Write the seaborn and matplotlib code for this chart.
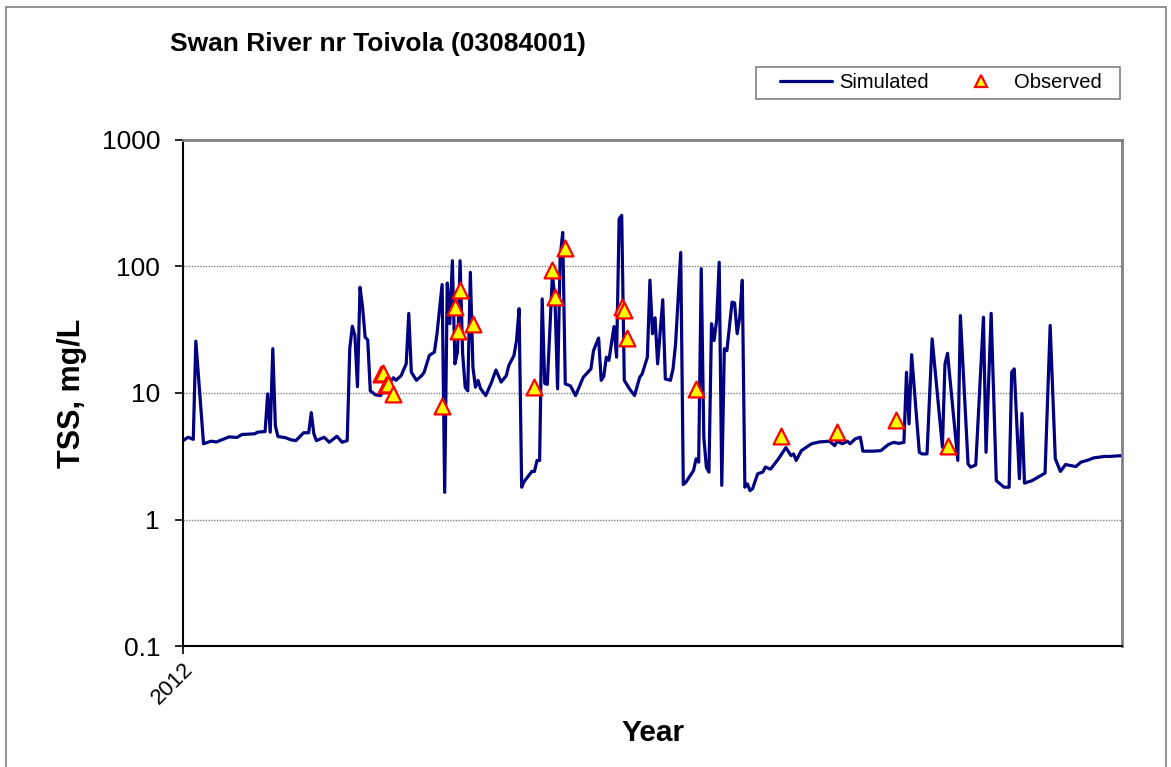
import numpy as np
import pandas as pd
import seaborn as sns
import matplotlib
matplotlib.use("Agg")
import matplotlib.pyplot as plt
from matplotlib.patches import Rectangle
from matplotlib.lines import Line2D
from matplotlib.ticker import FixedLocator, NullLocator

# ---------------- data ----------------
title = "Swan River nr Toivola (03084001)"
x_label = "Year"
y_label = "TSS, mg/L"
x_tick_days = [0]
x_tick_labels = ["2012"]
y_ticks = [0.1, 1, 10, 100, 1000]
y_tick_labels = ["0.1", "1", "10", "100", "1000"]

# simulated series: day of year (0 = 1 Jan 2012) and TSS (mg/L)
sim_day = [0, 2, 4, 5, 8, 11, 13, 18, 21, 23, 28, 29, 32, 33, 34, 35, 36, 37, 40, 42,
           44, 47, 49, 50, 51, 52, 55, 57, 60, 62, 64, 65, 66, 67, 68, 69, 70, 71, 72, 73,
           75, 77, 79, 82, 83, 85, 87, 88, 89, 91, 93, 94, 96, 98, 99, 101, 102, 103, 104, 105,
           106, 107, 108, 109, 110, 111, 112, 113, 114, 115, 116, 118, 120, 122, 124, 126, 127, 129, 130, 131,
           132, 133, 136, 137, 138, 139, 140, 141, 142, 144, 145, 146, 147, 148, 149, 151, 153, 156, 159, 160,
           162, 163, 164, 165, 166, 168, 169, 170, 171, 172, 174, 176, 178, 179, 181, 182, 183, 184, 185, 187,
           188, 190, 191, 192, 194, 195, 196, 199, 200, 201, 202, 203, 204, 205, 206, 207, 208, 209, 210, 211,
           212, 214, 215, 216, 217, 218, 219, 220, 221, 222, 224, 226, 227, 229, 232, 235, 237, 238, 239, 241,
           245, 248, 252, 254, 255, 257, 259, 260, 262, 264, 265, 269, 272, 275, 277, 279, 281, 282, 283, 284,
           287, 288, 290, 292, 296, 297, 298, 302, 303, 306, 307, 309, 312, 313, 315, 317, 320, 322, 323, 324,
           326, 327, 328, 331, 336, 338, 340, 342, 344, 348, 350, 353, 355, 359, 361, 366]
sim_tss = [4.2, 4.47, 4.3, 25.7, 3.97, 4.16, 4.1, 4.5, 4.45, 4.7, 4.76, 4.9, 4.96, 9.85, 4.9, 22.4, 5.5, 4.53, 4.43, 4.27,
           4.2, 4.85, 4.85, 7.0, 4.76, 4.2, 4.47, 4.08, 4.55, 4.08, 4.2, 22.4, 33.7, 28.5, 11.2, 68.5, 47.7, 27.6, 26.3, 10.4,
           9.68, 9.55, 11.1, 13.2, 12.6, 13.7, 17.0, 42.6, 14.6, 12.6, 13.7, 14.6, 19.8, 21.1, 29.4, 72.0, 1.64, 74.0, 35.3, 111.0,
           17.0, 21.1, 111.0, 20.4, 11.1, 10.4, 90.0, 16.0, 11.1, 12.6, 10.8, 9.55, 11.8, 15.2, 12.2, 13.7, 16.5, 19.8, 26.0, 46.4,
           1.8, 2.0, 2.4, 2.4, 2.93, 2.93, 55.4, 11.9, 11.7, 87.4, 53.7, 10.8, 118.0, 186.0, 11.8, 11.4, 9.55, 13.3, 15.5, 21.6,
           27.2, 12.6, 13.5, 19.2, 18.1, 33.5, 19.2, 238.0, 254.0, 12.6, 10.8, 9.55, 13.3, 14.2, 19.2, 78.0, 29.4, 39.3, 17.0, 54.6,
           12.9, 12.6, 15.5, 24.5, 129.0, 1.89, 1.97, 2.44, 3.02, 2.84, 96.0, 4.47, 2.59, 2.37, 35.3, 26.0, 37.5, 108.0, 1.86, 22.4,
           21.6, 52.3, 51.5, 29.4, 39.7, 77.8, 1.8, 1.91, 1.69, 1.75, 2.3, 2.37, 2.6, 2.5, 3.0, 3.7, 3.2, 3.3, 2.93, 3.5,
           3.97, 4.1, 4.16, 3.84, 4.16, 3.97, 4.16, 3.97, 4.34, 4.47, 3.47, 3.47, 3.5, 3.92, 4.07, 4.0, 4.07, 14.6, 5.7, 20.1,
           3.4, 3.3, 3.3, 26.8, 3.73, 17.0, 20.6, 2.93, 40.9, 2.75, 2.59, 2.7, 39.7, 3.4, 42.6, 2.03, 1.8, 1.8, 14.6, 15.5,
           2.1, 6.9, 1.94, 2.03, 2.33, 34.2, 3.02, 2.4, 2.72, 2.62, 2.84, 2.96, 3.07, 3.15, 3.15, 3.2]

# observed samples
obs_day = [77, 78, 79, 80, 82, 101, 106, 107, 108, 113, 137, 144, 145, 149, 171, 172, 173, 200, 233, 255, 278, 298]
obs_tss = [14.2, 14.3, 11.6, 11.8, 9.9, 7.9, 47.7, 31.0, 65.0, 35.0, 11.1, 93.0, 57.0, 140.0, 47.7, 45.4, 27.2,
           10.8, 4.6, 4.9, 6.13, 3.84]

# ---------------- style ----------------
sns.set_style("white")
plt.rcParams["font.family"] = ["Liberation Sans", "DejaVu Sans"]
plt.rcParams["text.color"] = "black"
plt.rcParams["axes.labelcolor"] = "black"
plt.rcParams["xtick.color"] = "black"
plt.rcParams["ytick.color"] = "black"

NAVY = "#000080"
W, H = 1171, 767
fig = plt.figure(figsize=(W / 100, H / 100), dpi=100)
fig.patch.set_facecolor("white")

# outer chart border
fig.patches.append(Rectangle((6 / W, -0.02), 1160 / W, 1 - 7 / H + 0.02, transform=fig.transFigure,
                             fill=False, edgecolor="#808080", linewidth=1.2))

L, R, T, B = 183, 1122, 140, 646
ax = fig.add_axes([L / W, 1 - B / H, (R - L) / W, (B - T) / H])

sim = pd.DataFrame({"day": sim_day, "tss": sim_tss})
obs = pd.DataFrame({"day": obs_day, "tss": obs_tss})

sns.lineplot(data=sim, x="day", y="tss", ax=ax, color=NAVY, linewidth=2.3, legend=False, zorder=2)
sns.scatterplot(data=obs, x="day", y="tss", ax=ax, marker="^", s=130, color="#FFFF00",
                edgecolor="#FF0000", linewidth=1.6, legend=False, zorder=3)

ax.set_yscale("log")
ax.set_ylim(0.1, 1000)
ax.set_xlim(0, 366)
ax.yaxis.set_major_locator(FixedLocator(y_ticks))
ax.yaxis.set_minor_locator(NullLocator())
ax.set_yticklabels(y_tick_labels)
ax.set_xticks(x_tick_days)
ax.set_xticklabels(x_tick_labels, rotation=45, ha="right", va="top", rotation_mode="anchor")

for yv in [1, 10, 100]:
    ax.axhline(yv, color="#808080", linestyle=(0, (1, 1)), linewidth=1.0, zorder=1)

for s in ["left", "bottom"]:
    ax.spines[s].set_color("black")
    ax.spines[s].set_linewidth(1.5)
for s in ["top", "right"]:
    ax.spines[s].set_color("#808080")
    ax.spines[s].set_linewidth(2.0)

ax.tick_params(axis="both", which="major", direction="out", length=6, width=1.2,
               color="black", labelcolor="black", left=True, bottom=True)
ax.tick_params(axis="y", labelsize=19, pad=10.5)
ax.tick_params(axis="x", labelsize=16, pad=3)

ax.set_xlabel(x_label, fontsize=21.5, fontweight="bold", va="center", color="black")
ax.xaxis.set_label_coords((653 - L) / (R - L), (B - 733) / (B - T))
ax.set_ylabel(y_label, fontsize=22, fontweight="bold", va="center", color="black")
ax.yaxis.set_label_coords((72 - L) / (R - L), 0.5)

fig.text(170 / W, 1 - 44 / H, title, ha="left", va="center", fontsize=19, fontweight="bold", color="black")

# legend frame drawn separately so the inner padding matches the reference
fig.patches.append(Rectangle((756 / W, 1 - 99 / H), (1120 - 756) / W, 32 / H, transform=fig.transFigure,
                             facecolor="white", edgecolor="#808080", linewidth=1.2, zorder=5))
handles = [Line2D([], [], color=NAVY, linewidth=2.3),
           Line2D([], [], linestyle="none", marker="^", markersize=8, markerfacecolor="#FFFF00",
                  markeredgecolor="#FF0000", markeredgewidth=1.6)]
leg = fig.legend(handles, ["Simulated", "Observed"], loc="center right", ncol=2,
                 bbox_to_anchor=(1102 / W, 1 - 83 / H), bbox_transform=fig.transFigure,
                 fontsize=14.5, frameon=False, handlelength=2.6, handletextpad=0.35,
                 columnspacing=1.3, borderpad=0, borderaxespad=0)
leg.set_zorder(6)

fig.savefig("out.png", dpi=100)
